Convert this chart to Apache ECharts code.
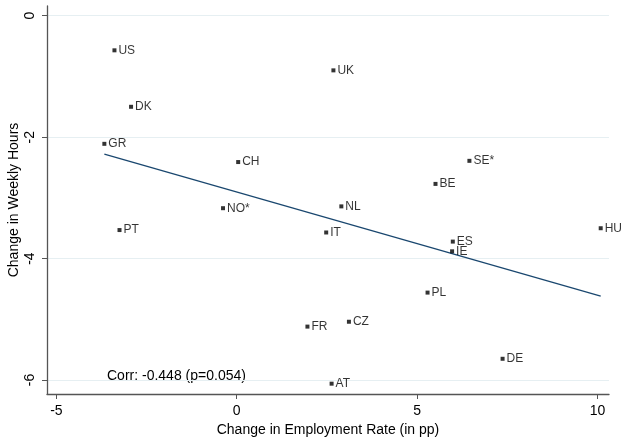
<!DOCTYPE html>
<html lang="en">
<head>
<meta charset="UTF-8">
<title>Change in Weekly Hours vs Employment Rate</title>
<script src="https://cdn.jsdelivr.net/npm/echarts@6/dist/echarts.min.js"></script>
<style>
    html, body { margin: 0; padding: 0; background: #fff; }
    #main { width: 624px; height: 437px; }
</style>
</head>
<body>
<div id="main"></div>
<script>
    // countries and their values
    var countries = ['US', 'DK', 'GR', 'CH', 'NO*', 'UK', 'SE*', 'BE', 'NL', 'PT', 'FR', 'IT', 'ES', 'IE', 'HU', 'PL', 'CZ', 'DE', 'AT'];
    var empChange = [-3.39, -2.93, -3.67, 0.04, -0.38, 2.68, 6.45, 5.51, 2.90, -3.25, 1.96, 2.48, 5.99, 5.97, 10.09, 5.29, 3.11, 7.37, 2.63];
    var hoursChange = [-0.57, -1.50, -2.11, -2.41, -3.17, -0.90, -2.39, -2.77, -3.14, -3.53, -5.12, -3.57, -3.72, -3.88, -3.50, -4.56, -5.04, -5.65, -6.06];
    // ends of the fitted line
    var fitX = [-3.67, 10.09];
    var fitY = [-2.28, -4.62];
    var xTicks = [-5, 0, 5, 10];
    var yTicks = [0, -2, -4, -6];
    var corrText = 'Corr: -0.448 (p=0.054)';

    var pts = [];
    for (var i = 0; i < countries.length; i++) {
        pts.push({ value: [empChange[i], hoursChange[i]], name: countries[i] });
    }

    var font = 'Liberation Sans, Arial, sans-serif';
    var myChart = echarts.init(document.getElementById('main'));
    var option = {
        animation: false,
        textStyle: { fontFamily: font },
        grid: { left: 47, right: 15, top: 6, bottom: 43, containLabel: false, outerBoundsMode: 'none' },
        xAxis: {
            type: 'value',
            min: -5.26,
            max: 10.32,
            name: 'Change in Employment Rate (in pp)',
            nameLocation: 'middle',
            nameGap: 26,
            nameTextStyle: { fontSize: 14, color: '#000' },
            axisLine: { onZero: false, lineStyle: { color: '#555', width: 1.3 } },
            axisTick: { show: true, length: 5, customValues: xTicks, lineStyle: { color: '#555' } },
            axisLabel: { customValues: xTicks, fontSize: 14, color: '#000', margin: 10 },
            splitLine: { show: false }
        },
        yAxis: {
            type: 'value',
            min: -6.23,
            max: 0.16,
            name: 'Change in Weekly Hours',
            nameLocation: 'middle',
            nameGap: 26,
            nameMoveOverlap: false,
            nameTextStyle: { fontSize: 14, color: '#000' },
            axisLine: { show: true, onZero: false, lineStyle: { color: '#555', width: 1.3 } },
            axisTick: { show: true, length: 5, customValues: yTicks, lineStyle: { color: '#555' } },
            axisLabel: { customValues: yTicks, fontSize: 14, color: '#000', rotate: 90, margin: 10 },
            splitLine: { show: true, lineStyle: { color: '#e6eff2', width: 1 } }
        },
        graphic: [{
            type: 'text',
            left: 107,
            top: 369,
            style: { text: corrText, fontSize: 14, fill: '#000', fontFamily: font }
        }],
        series: [
            {
                type: 'line',
                data: [[fitX[0], fitY[0]], [fitX[1], fitY[1]]],
                symbol: 'none',
                lineStyle: { color: '#1a476f', width: 1.3 },
                z: 1
            },
            {
                type: 'scatter',
                data: pts,
                symbol: 'rect',
                symbolSize: 4,
                itemStyle: { color: '#000' },
                label: {
                    show: true,
                    position: 'right',
                    distance: 2,
                    formatter: '{b}',
                    fontSize: 12,
                    color: '#000'
                },
                z: 2
            }
        ]
    };
    myChart.setOption(option);
</script>
</body>
</html>
